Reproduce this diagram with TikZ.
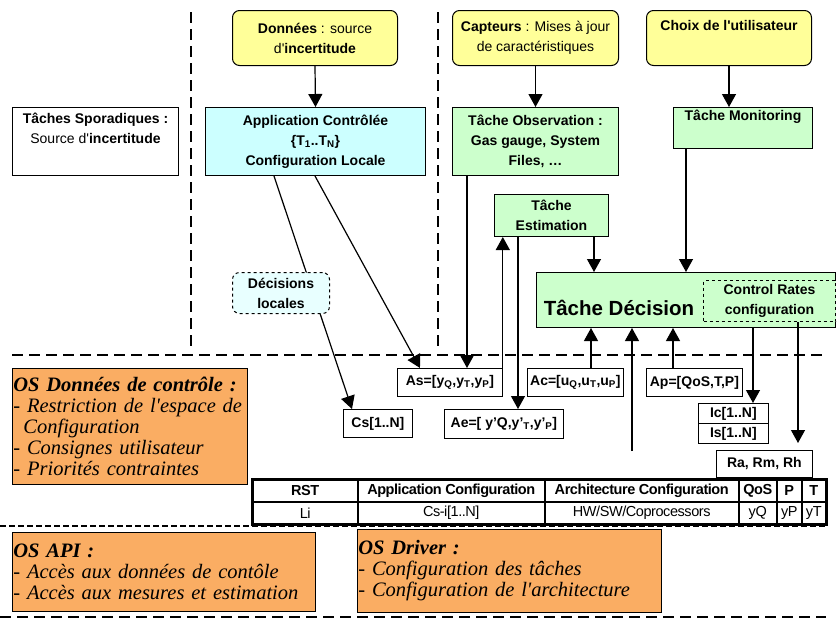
\documentclass[tikz,border=0pt]{standalone}
\usepackage{fontspec}
\setmainfont{Liberation Sans}[Ligatures=TeXOff]
\newfontfamily\tms{Liberation Serif}[Ligatures=TeXOff]
\usetikzlibrary{arrows.meta}
\definecolor{jaune}{HTML}{FFFF99}
\definecolor{cyanA}{HTML}{CCFFFF}
\definecolor{cyanB}{HTML}{E8FFFF}
\definecolor{vert}{HTML}{CCFFCC}
\definecolor{orangeOS}{HTML}{FAAD63}
\tikzset{%
    fnt/.style={font=\fontsize{14}{20}\selectfont},
    bfn/.style={font=\fontsize{14}{20}\selectfont\bfseries},
    src/.style={rectangle, rounded corners=7pt, draw, line width=1pt, fill=jaune, anchor=north west, align=center, inner sep=1pt, fnt},
    tsk/.style={rectangle, draw, line width=1pt, fill=vert, anchor=north west, align=center, inner sep=1pt, bfn},
    val/.style={rectangle, draw, line width=0.8pt, fill=white, anchor=north west, inner sep=0pt, font=\bfseries\fontsize{14}{15}\selectfont},
    osb/.style={rectangle, draw, line width=0.8pt, fill=orangeOS, anchor=north west, align=left, inner sep=1pt, font=\tms\itshape\fontsize{20.5}{21}\selectfont},
    cel/.style={rectangle, draw, line width=1.5pt, anchor=north west, minimum height=22, inner sep=0pt},
    pri/.style={line width=1pt},
    pra/.style={line width=1.2pt, -{Triangle[length=13pt, width=14pt]}},
    sep/.style={line width=2.5pt, dash pattern=on 11pt off 6pt},
    sepf/.style={line width=1.2pt, dash pattern=on 6pt off 3pt}
}
\newcommand{\tabfont}{\fontsize{14.5}{15}\selectfont\addfontfeatures{LetterSpace=-3}}

\begin{document}
\begin{tikzpicture}[x=1pt,y=-1pt]
    \useasboundingbox (0,0) rectangle (838,619);
    \draw [sep] (191,12)--(191,349);
    \draw [sep] (438,12)--(438,349);
    \draw [sep] (12,355)--(824,355);
    \draw [sepf] (0,526)--(826,526);
    \draw [sep] (0,617)--(826,617);

    \node [src, minimum width=165, minimum height=55] (don) at (232,10) {\textbf{Données} : source\\d'\textbf{incertitude}};
    \node [src, minimum width=166, minimum height=55] (cap) at (452,10) {\textbf{Capteurs} : Mises à jour\\de caractéristiques};
    \node [src, minimum width=165, minimum height=55] (cho) at (646,10) {\textbf{Choix de l'utilisateur}\\ \strut};

    \node [tsk, fnt, fill=white, minimum width=166, minimum height=68] (spo) at (12,107) {\textbf{Tâches Sporadiques :}\\Source d'\textbf{incertitude}\\ \strut};
    \node [tsk, fill=cyanA, minimum width=220, minimum height=68] (app) at (205,107) {Application Contrôlée\\\{T\textsubscript{1}..T\textsubscript{N}\}\\Configuration Locale};
    \node [tsk, minimum width=166, minimum height=68] (obs) at (452,107) {Tâche Observation :\\Gas gauge, System\\Files, …};
    \node [tsk, minimum width=139, minimum height=41] (mon) at (673,107) {Tâche Monitoring\\ \strut};
    \node [tsk, minimum width=114, minimum height=42] (est) at (494,194) {Tâche\\Estimation};
    \node [tsk, minimum width=299, minimum height=55] (dec) at (536,272) {};
    \node [font=\bfseries\fontsize{20.5}{22}\selectfont] (dect) at (619,308) {Tâche Décision};
    \node [tsk, dashed, minimum width=132, minimum height=41] (crc) at (703,280) {Control Rates\\configuration};

    \node [val, minimum width=105, minimum height=28] (as) at (397,368) {As=[y\textsubscript{Q},y\textsubscript{T},y\textsubscript{P}]};
    \node [val, minimum width=96, minimum height=28] (ac) at (527,368) {Ac=[u\textsubscript{Q},u\textsubscript{T},u\textsubscript{P}]};
    \node [val, minimum width=96, minimum height=28] (ap) at (646,368) {Ap=[QoS,T,P]};
    \node [val, minimum width=119, minimum height=29] (ae) at (444,409) {Ae=[ y’Q,y’\textsubscript{T},y’\textsubscript{P}]};
    \node [val, minimum width=69, minimum height=28] (cs) at (343,409) {Cs[1..N]};
    \node [val, minimum width=70, minimum height=20] (ic) at (698,403) {Ic[1..N]};
    \node [val, minimum width=70, minimum height=20] (is) at (698,423) {Is[1..N]};
    \node [val, minimum width=96, minimum height=27] (rr) at (716,450) {Ra, Rm, Rh};

    \draw [pra] (don.south)--(app.north);
    \draw [pra] (cap.south)--(obs.north);
    \draw [pra] (cho.south)--(cho.south |- mon.north);
    \draw [pra] (274,0 |- app.south)--(352,0 |- cs.north);
    \node [tsk, dashed, rounded corners=7pt, fill=cyanB, minimum width=97, minimum height=41] (loc) at (232,272) {Décisions\\locales};
    \draw [pra] (315,0 |- app.south)--(420,0 |- as.north);
    \draw [pra] (467,0 |- obs.south)--(467,0 |- as.north);
    \draw [pra] (as.north east)--(as.north east |- est.south);
    \draw [pra] (518,0 |- est.south)--(518,0 |- ae.north);
    \draw [pra] (594,0 |- est.south)--(594,0 |- dec.north);
    \draw [pra] (686,0 |- mon.south)--(686,0 |- dec.north);
    \draw [pra] (591,0 |- ac.north)--(591,0 |- dec.south);
    \coordinate (arch) at (632,451);
    \draw [pra] (arch)--(arch |- dec.south);
    \draw [pra] (673,0 |- ap.north)--(673,0 |- dec.south);
    \draw [pra] (753,0 |- dec.south)--(753,0 |- ic.north);
    \coordinate (rate) at (798,443);
    \draw [pra] (rate |- crc.south)--(rate);

    \foreach \xa/\xb/\hd/\vl [count=\i] in {252/357/RST/Li, 357/544/{Application Configuration}/{Cs-i[1..N]}, 544/738/{Architecture Configuration}/{HW/SW/Coprocessors}, 738/776/QoS/yQ, 776/801/P/yP, 801/825/T/yT}{
        \node [cel, font=\bfseries\tabfont, minimum width={\xb-\xa}] (h\i) at (\xa,479) {\hd};
        \node [cel, font=\tabfont, minimum width={\xb-\xa}] (v\i) at (\xa,501) {\vl};
    }
    \draw [line width=2pt] (h1.north west) rectangle (v6.south east);

    \node [osb, minimum width=235, minimum height=116, text width=233] (osd) at (12,368) {\textbf{OS Données de contrôle :}\\- Restriction de l'espace de\\\hspace*{10pt}Configuration\\- Consignes utilisateur\\- Priorités contraintes\\[3pt]};
    \node [osb, minimum width=303, minimum height=79, text width=301] (api) at (12,532) {\textbf{OS API :}\\- Accès aux données de contôle\\- Accès aux mesures et estimation};
    \node [osb, minimum width=304, minimum height=83, text width=302] (drv) at (357,529) {\textbf{OS Driver :}\\- Configuration des tâches\\- Configuration de l'architecture};
\end{tikzpicture}
\end{document}
